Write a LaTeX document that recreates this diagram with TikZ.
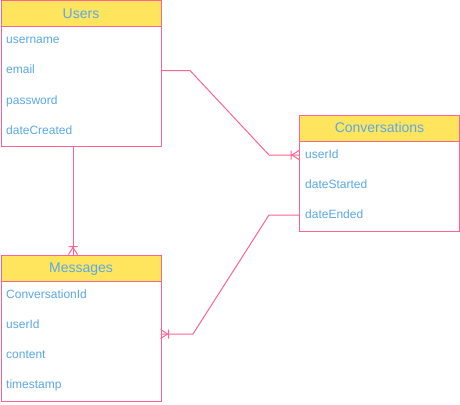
\documentclass[tikz,border=0pt]{standalone}
\usepackage{fontspec}
\setmainfont{Liberation Sans}
\definecolor{pk}{HTML}{FF6392}
\definecolor{yl}{HTML}{FFE45E}
\definecolor{bl}{HTML}{5AA9E6}
\tikzset{
  hdr/.style={draw=pk, fill=yl, line width=1pt, minimum width=160pt, minimum height=26pt, inner sep=0pt, anchor=north west, text=bl, font=\fontsize{14}{16}\selectfont, text height=11pt, text depth=2pt},
  body/.style={draw=pk, fill=white, line width=1pt, minimum width=160pt, inner sep=0pt, anchor=north west},
  fld/.style={anchor=west, inner sep=0pt, text=bl, font=\fontsize{12}{14}\selectfont, text height=9pt, text depth=2pt},
  conn/.style={draw=pk, line width=1pt},
  crowfoot/.pic={\draw[pk, line width=1pt] (7,0) -- (0,4.5) (7,0) -- (0,-4.5) (8,-4.5) -- (8,4.5);}
}
\begin{document}
\begin{tikzpicture}[x=1pt,y=-1pt]
\useasboundingbox (0,0) rectangle (460,404);
% Users
\node[body, minimum height=120pt] (ub) at (0.5,26) {};
\node[hdr] (uh) at (0.5,0.5) {Users};
\node[fld] (u1) at (6,40.5) {username};
\node[fld] (u2) at (6,70.5) {email};
\node[fld] (u3) at (6,100.5) {password};
\node[fld] (u4) at (6,130.5) {dateCreated};
% Conversations
\node[body, minimum height=90pt] (cb) at (299,140.5) {};
\node[hdr] (ch) at (299,114.5) {Conversations};
\node[fld] (c1) at (305,155) {userId};
\node[fld] (c2) at (305,185) {dateStarted};
\node[fld] (c3) at (305,215) {dateEnded};
% Messages
\node[body, minimum height=120pt] (mb) at (0.5,280.5) {};
\node[hdr] (mh) at (0.5,254.5) {Messages};
\node[fld] (m1) at (6,295) {ConversationId};
\node[fld] (m2) at (6,325) {userId};
\node[fld] (m3) at (6,355) {content};
\node[fld] (m4) at (6,385) {timestamp};
% connector coordinates
\coordinate (a0) at (ub.east |- u2.west);
\coordinate (a1) at (190,70.5);
\coordinate (a2) at (269,155);
\coordinate (a3) at (cb.west |- c1.west);
\coordinate (b0) at (73,146);
\coordinate (b1) at (73,254.5);
\coordinate (d0) at (cb.west |- c3.west);
\coordinate (d1) at (269,215);
\coordinate (d2) at (193,334);
\coordinate (d3) at (160.5,334);
\draw[conn] (a0) -- (a1) -- (a2) -- (a3);
\draw[conn] (b0) -- (b1);
\draw[conn] (d0) -- (d1) -- (d2) -- (d3);
\pic[rotate=180] at (a3) {crowfoot};
\pic[rotate=90] at (b1) {crowfoot};
\pic at (d3) {crowfoot};
\end{tikzpicture}
\end{document}
